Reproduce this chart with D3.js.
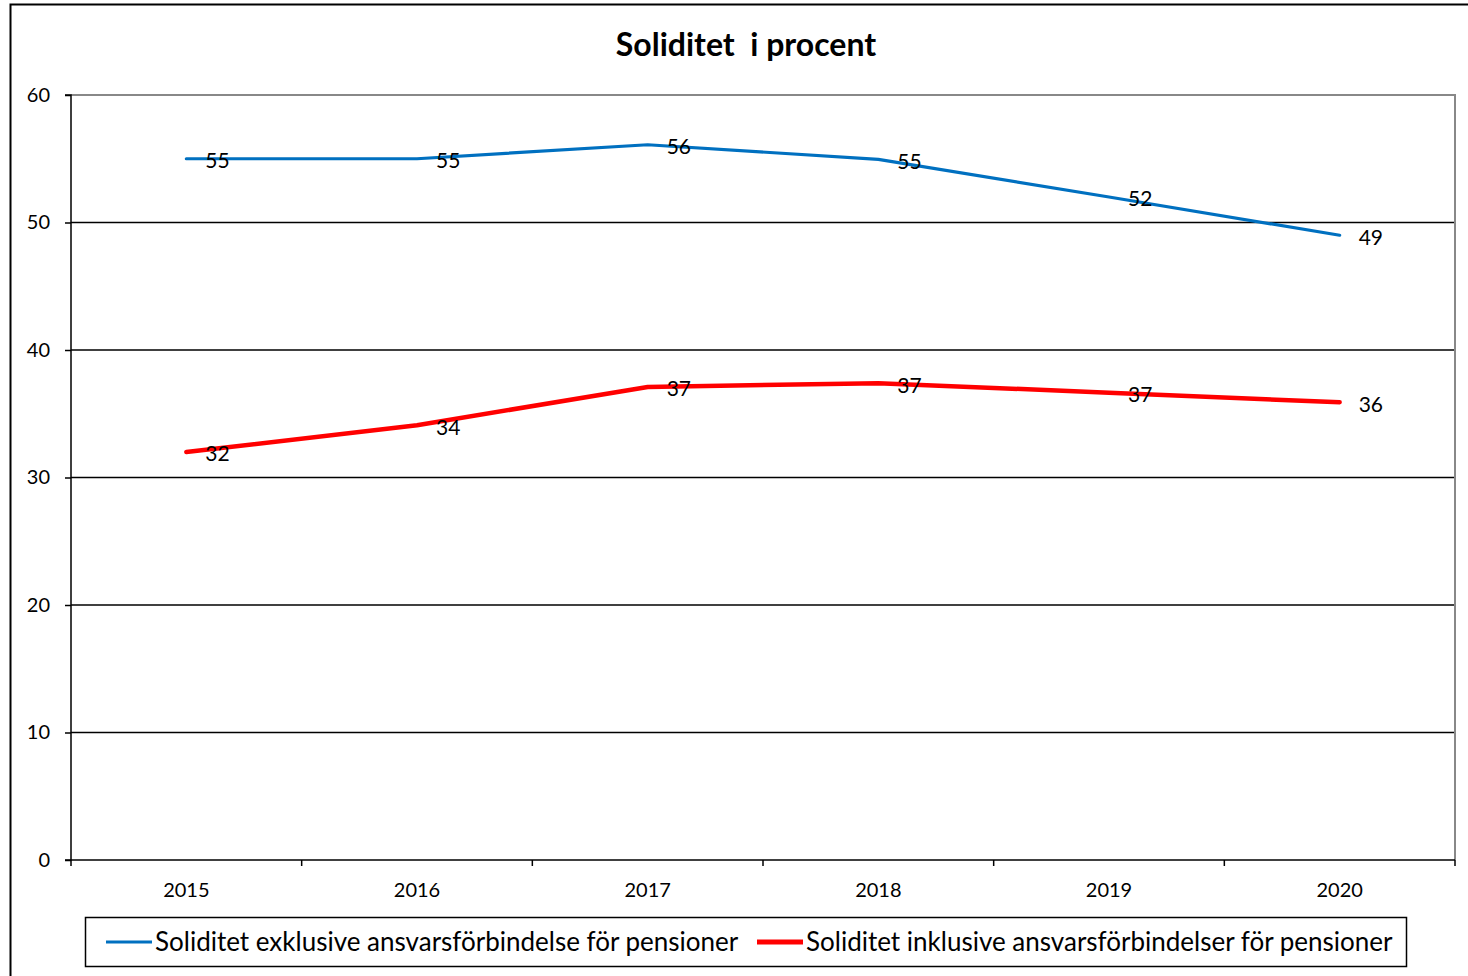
<!DOCTYPE html>
<html><head><meta charset="utf-8">
<script src="https://cdn.jsdelivr.net/npm/d3@7"></script>
<style>body{margin:0;background:#fff;} text{font-family:Lato,"Open Sans",sans-serif;}</style>
</head><body>
<svg id="c" width="1468" height="976"></svg>
<script>
const years = ["2015","2016","2017","2018","2019","2020"];
const exklusive = [55.0, 55.0, 56.1, 54.95, 52.0, 49.0];
const inklusive = [32.0, 34.1, 37.1, 37.4, 36.65, 35.9];
const yTicks = [0,10,20,30,40,50,60];
const seriesNames = ["Soliditet exklusive ansvarsförbindelse för pensioner","Soliditet inklusive ansvarsförbindelser för pensioner"];
const seriesColors = ["#0070C0","#FF0000"];
const title = "Soliditet  i procent";

const svg = d3.select("#c");
const L=71, R=1455, T=95, B=860;
const x = d3.scaleBand().domain(years).range([L,R]);
const y = d3.scaleLinear().domain([0,60]).range([B,T]);

svg.append("rect").attr("x",10.5).attr("y",4.5).attr("width",1480).attr("height",990)
  .attr("fill","none").attr("stroke","#000").attr("stroke-width",2);

svg.append("text").attr("x",746).attr("y",56).attr("text-anchor","middle").style("white-space","pre")
  .attr("font-size",32).attr("font-weight","bold").text(title);

// gridlines
svg.append("g").selectAll("line").data(yTicks.filter(d=>d>0 && d<60)).join("line")
  .attr("x1",L).attr("x2",R).attr("y1",d=>y(d)).attr("y2",d=>y(d))
  .attr("stroke","#000").attr("stroke-width",1.3);
// plot border top/right gray
svg.append("path").attr("d",`M${L},${T}H${R}V${B}`).attr("fill","none")
  .attr("stroke","#888").attr("stroke-width",2);

// y axis
const ya = svg.append("g").attr("transform",`translate(${L},0)`)
  .call(d3.axisLeft(y).tickValues(yTicks).tickSize(6).tickPadding(15).tickFormat(d3.format("d")));
ya.select(".domain").attr("stroke","#000").attr("stroke-width",1.5).attr("d",`M-6,${T}H0V${B}H-6`);
ya.selectAll(".tick line").attr("stroke","#000").attr("stroke-width",1.5);
ya.selectAll("text").attr("font-size",20).attr("fill","#000").style("font-family","Lato,sans-serif");

// x axis
const xa = svg.append("g").attr("transform",`translate(0,${B})`)
  .call(d3.axisBottom(x).tickSize(0).tickPadding(23));
xa.select(".domain").attr("stroke","#000").attr("stroke-width",1.5).attr("d",`M${L},0H${R}`);
xa.selectAll("text").attr("font-size",20).attr("fill","#000").style("font-family","Lato,sans-serif");
const bounds = years.map(d=>x(d)).concat([R]);
xa.selectAll(".bt").data(bounds).join("line").attr("class","bt")
  .attr("x1",d=>d).attr("x2",d=>d).attr("y1",0).attr("y2",6).attr("stroke","#000").attr("stroke-width",1.5);

const cx = d => x(d)+x.bandwidth()/2;
const line = d3.line().x((d,i)=>cx(years[i])).y(d=>y(d));
[exklusive, inklusive].forEach((s,k)=>{
  svg.append("path").datum(s).attr("d",line).attr("fill","none")
    .attr("stroke",seriesColors[k]).attr("stroke-width",k===0?3.2:4.5).attr("stroke-linecap","round").attr("stroke-linejoin","round");
});
[exklusive, inklusive].forEach((s,k)=>{
  svg.append("g").selectAll("text").data(s).join("text")
    .attr("x",(d,i)=>cx(years[i])+19).attr("y",(d,i)=>y(d)+2).attr("dy","0.35em")
    .attr("font-size",21).attr("fill","#000").text(d=>d3.format(".0f")(d));
});

// legend
svg.append("rect").attr("x",85.5).attr("y",917.5).attr("width",1321).attr("height",49)
  .attr("fill","#fff").attr("stroke","#000").attr("stroke-width",1.5);
const legX = [106, 757];
seriesNames.forEach((n,k)=>{
  svg.append("line").attr("x1",legX[k]).attr("x2",legX[k]+46).attr("y1",942).attr("y2",942)
    .attr("stroke",seriesColors[k]).attr("stroke-width",k===0?3:5);
  svg.append("text").attr("x",legX[k]+49).attr("y",942).attr("dy","0.35em")
    .attr("font-size",26).attr("fill","#000").text(n);
});
</script>
</body></html>
